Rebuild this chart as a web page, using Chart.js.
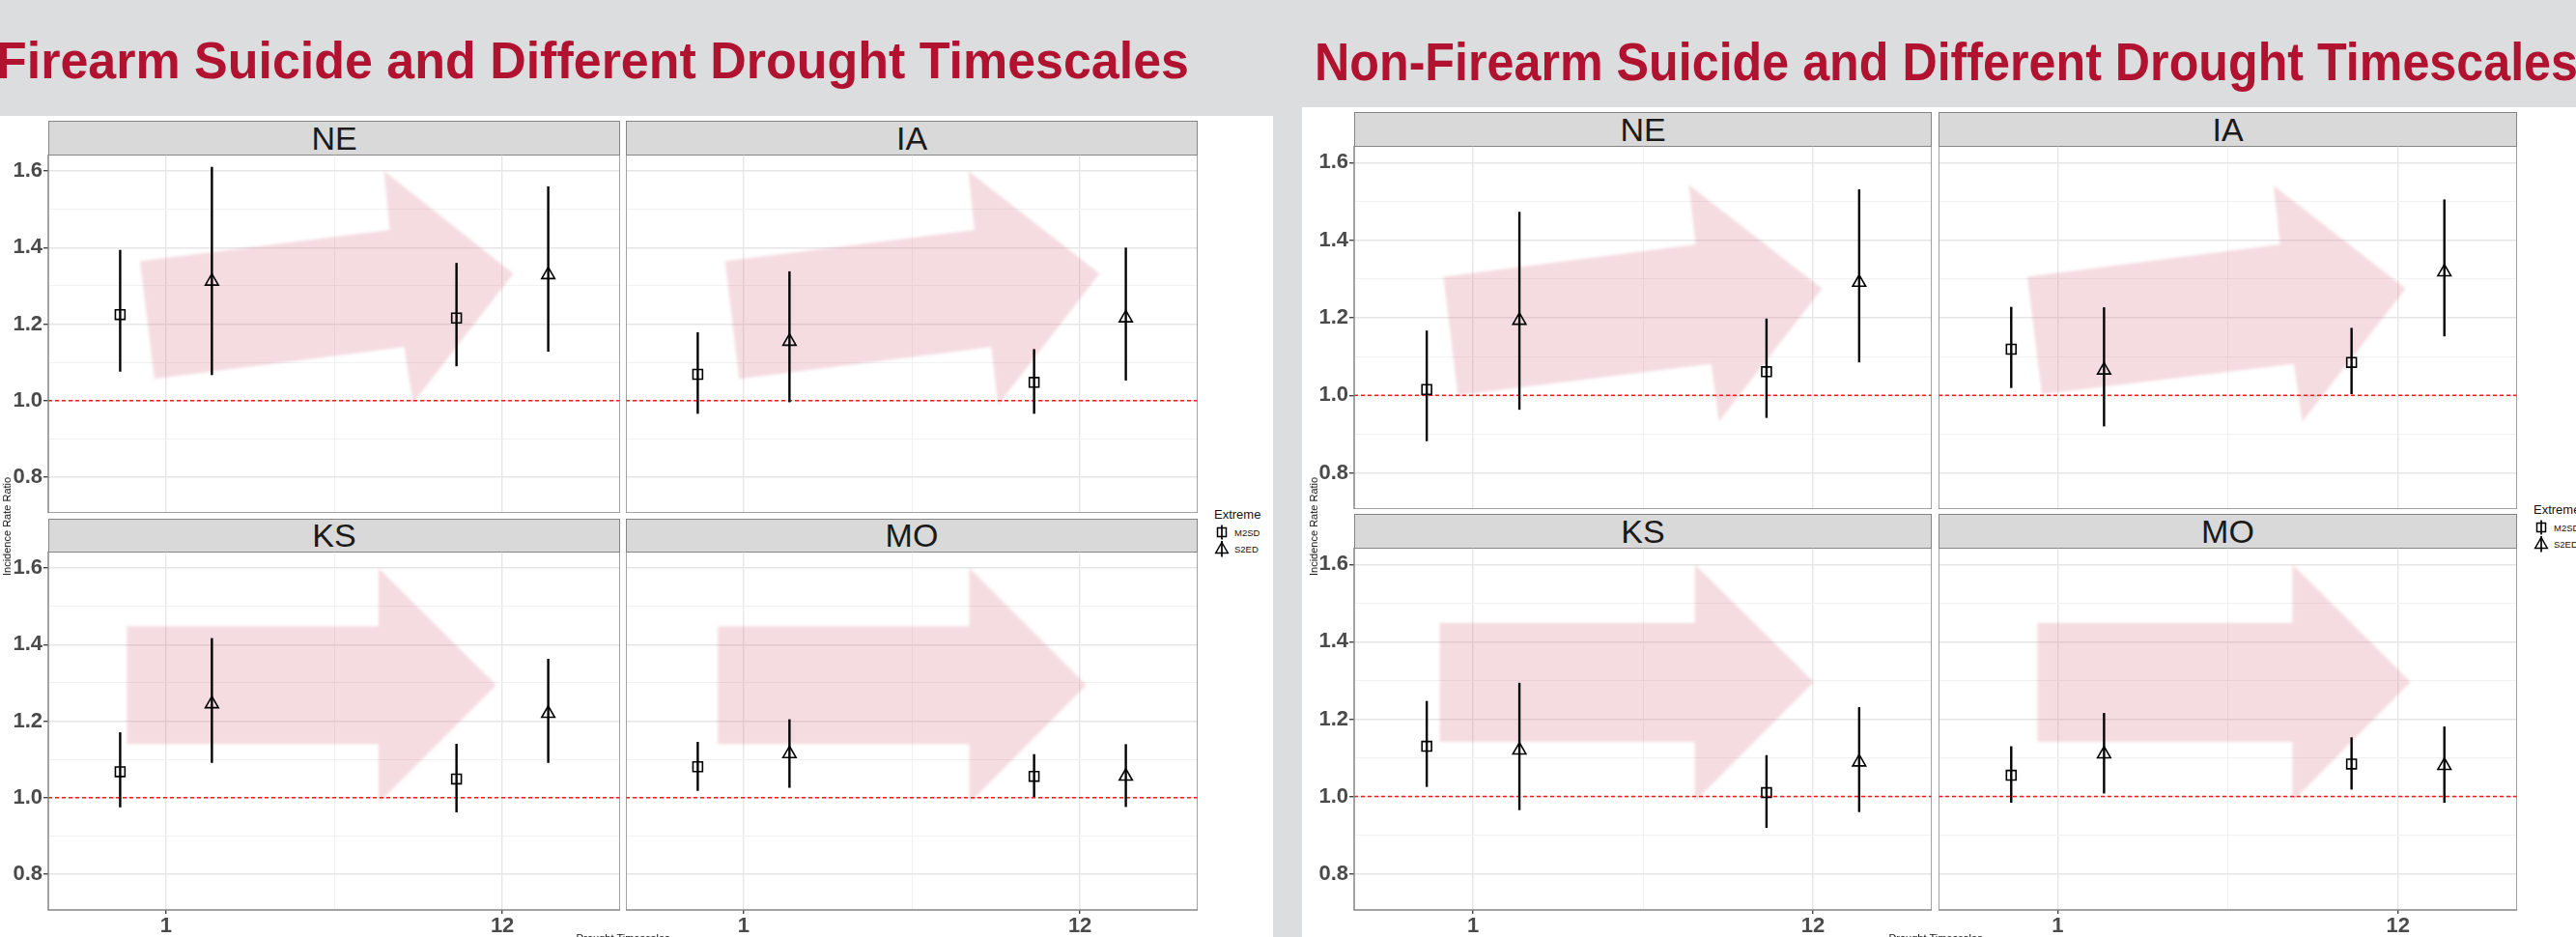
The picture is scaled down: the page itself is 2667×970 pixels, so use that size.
<!DOCTYPE html>
<html>
<head>
<meta charset="utf-8">
<script src="https://cdn.jsdelivr.net/npm/chart.js@4.4.1/dist/chart.umd.min.js"></script>
<style>
  html, body { margin: 0; padding: 0; }
  body {
    width: 2667px; height: 970px; overflow: hidden; position: relative;
    background: #dcdddf; font-family: "Liberation Sans", Arial, sans-serif;
  }
  .sheet { position: absolute; background: #ffffff; }
  .title {
    position: absolute; color: #b1122f; font-weight: bold; white-space: nowrap;
    line-height: 1; transform-origin: 0 0;
  }
  .strip {
    position: absolute; box-sizing: border-box; background: #d9d9d9;
    border: 1.5px solid #858585; color: #1a1a1a; font-size: 34px;
    display: flex; align-items: center; justify-content: center;
  }
  .panel { position: absolute; }
  .panel canvas { display: block; }
  .ytitle {
    position: absolute; font-size: 11px; color: #111; white-space: nowrap;
    transform: translate(-50%, -50%) rotate(-90deg);
  }
  .xtitle {
    position: absolute; font-size: 11px; color: #111; white-space: nowrap;
    transform: translateX(-50%);
  }
  .legend { position: absolute; color: #111; }
  .legend .lt { font-size: 13px; position: absolute; left: 0; top: -8px; white-space: nowrap; }
  .legend .item { position: absolute; left: 0; height: 18px; display: flex; align-items: center; white-space: nowrap; }
  .legend .item span { font-size: 9.5px; margin-left: 5px; }
</style>
</head>
<body>
<script>
// ---- data -------------------------------------------------------------
const states = ['NE', 'IA', 'KS', 'MO'];
const timescales = [1, 12];
const extremes = ['M2SD', 'S2ED'];
const yTicks = [0.8, 0.9, 1.0, 1.1, 1.2, 1.3, 1.4, 1.5, 1.6];
const xTicks = [1, 6.5, 12];
const yTitle = 'Incidence Rate Ratio';
const xTitle = 'Drought Timescales';
const legendTitle = 'Extreme';

// Firearm suicide: rows follow `states`, columns follow `timescales`
const firearmM2SD   = [[1.225, 1.216], [1.069, 1.048], [1.068, 1.049], [1.081, 1.056]];
const firearmM2SDLo = [[1.076, 1.090], [0.966, 0.966], [0.975, 0.962], [1.018, 1.002]];
const firearmM2SDHi = [[1.394, 1.360], [1.179, 1.135], [1.171, 1.141], [1.146, 1.114]];
const firearmS2ED   = [[1.312, 1.329], [1.155, 1.216], [1.245, 1.220], [1.115, 1.056]];
const firearmS2EDLo = [[1.067, 1.128], [0.996, 1.053], [1.091, 1.091], [1.026, 0.976]];
const firearmS2EDHi = [[1.611, 1.560], [1.338, 1.400], [1.417, 1.363], [1.205, 1.140]];

// Non-firearm suicide
const nonFirearmM2SD   = [[1.015, 1.061], [1.119, 1.085], [1.130, 1.010], [1.055, 1.084]];
const nonFirearmM2SDLo = [[0.882, 0.942], [1.019, 1.003], [1.025, 0.919], [0.984, 1.018]];
const nonFirearmM2SDHi = [[1.167, 1.198], [1.228, 1.174], [1.247, 1.107], [1.130, 1.153]];
const nonFirearmS2ED   = [[1.193, 1.291], [1.065, 1.318], [1.120, 1.089], [1.110, 1.080]];
const nonFirearmS2EDLo = [[0.963, 1.085], [0.920, 1.152], [0.965, 0.960], [1.008, 0.984]];
const nonFirearmS2EDHi = [[1.473, 1.531], [1.227, 1.505], [1.294, 1.231], [1.216, 1.181]];

// ---- highlight arrows, vertices in axis units (x = timescale, y = IRR) ----
const firearmArrows = [
  [[0.15, 1.365], [8.32, 1.446], [8.13, 1.60], [12.36, 1.332], [9.08, 0.994], [8.79, 1.140], [0.62, 1.057]],
  [[0.39, 1.365], [8.55, 1.446], [8.35, 1.60], [12.64, 1.332], [9.32, 0.989], [9.10, 1.140], [0.855, 1.057]],
  [[-0.28, 1.448], [7.95, 1.448], [7.95, 1.60], [11.80, 1.294], [7.95, 0.986], [7.95, 1.140], [-0.28, 1.140]],
  [[0.155, 1.448], [8.38, 1.448], [8.38, 1.60], [12.21, 1.294], [8.38, 0.986], [8.38, 1.140], [0.155, 1.140]]
];
const nonFirearmArrows = [
  [[0.04, 1.306], [8.21, 1.389], [7.98, 1.543], [12.30, 1.275], [8.96, 0.932], [8.71, 1.081], [0.51, 1.001]],
  [[0.02, 1.306], [8.19, 1.389], [7.98, 1.541], [12.25, 1.275], [8.91, 0.932], [8.64, 1.081], [0.49, 1.003]],
  [[-0.08, 1.449], [8.18, 1.449], [8.18, 1.60], [12.03, 1.296], [8.18, 0.987], [8.18, 1.141], [-0.08, 1.141]],
  [[0.35, 1.449], [8.59, 1.449], [8.59, 1.60], [12.41, 1.296], [8.59, 0.987], [8.59, 1.141], [0.35, 1.141]]
];

// ---- page layout ---------------------------------------------------------
const X_MIN = -2.85, X_MAX = 15.85, Y_MIN = 0.707, Y_MAX = 1.643;
const DODGE = 1.5;

const figures = [
  {
    title: 'Firearm Suicide and Different Drought Timescales',
    titleBox: { left: -4, right: 1231, baseline: 81, size: 53 },
    sheet: { left: 0, top: 120, width: 1318, height: 850 },
    cols: [[50, 642], [648, 1240]],
    rows: [[125, 160, 531], [537, 571, 942]],
    yLabelW: 50, yTitleX: 7, yTitleY: 545, xTitleX: 645,
    legend: { x: 1257, y: 533 },
    est: [firearmM2SD, firearmS2ED], lo: [firearmM2SDLo, firearmS2EDLo], hi: [firearmM2SDHi, firearmS2EDHi],
    arrows: firearmArrows
  },
  {
    title: 'Non-Firearm Suicide and Different Drought Timescales',
    titleBox: { left: 1361, right: 2669, baseline: 83, size: 56 },
    sheet: { left: 1348, top: 111, width: 1330, height: 859 },
    cols: [[1402, 2000], [2007, 2606]],
    rows: [[116, 151, 527], [532, 567, 942]],
    yLabelW: 50, yTitleX: 1360, yTitleY: 545, xTitleX: 2004,
    legend: { x: 2623, y: 528 },
    est: [nonFirearmM2SD, nonFirearmS2ED], lo: [nonFirearmM2SDLo, nonFirearmS2EDLo], hi: [nonFirearmM2SDHi, nonFirearmS2EDHi],
    arrows: nonFirearmArrows
  }
];

const X_LABEL_H = 32;
const pointStyles = ['rect', 'triangle'];
const pointRadii = [7, 7.8];
const tickFont = { family: 'Liberation Sans', size: 22, weight: 'bold' };

function el(tag, cls, style, text) {
  const e = document.createElement(tag);
  if (cls) e.className = cls;
  Object.assign(e.style, style || {});
  if (text !== undefined) e.textContent = text;
  document.body.appendChild(e);
  return e;
}

const isMajorY = v => Math.round(v * 10) % 2 === 0;
const isMajorX = v => v === 1 || v === 12;

// axes keep exactly the size given, without extra room for overhanging labels
function fixAxis(s, size) {
  if (s.isHorizontal()) s.height = size; else s.width = size;
  s.paddingTop = 0; s.paddingBottom = 0; s.paddingLeft = 0; s.paddingRight = 0;
}

function panelDecor(arrow) {
  return {
    id: 'panelDecor',
    beforeDatasetsDraw(chart) {
      const { ctx, chartArea: a, scales: { x, y } } = chart;
      ctx.save();
      ctx.beginPath();
      ctx.rect(a.left, a.top, a.width, a.height);
      ctx.clip();
      // soft pink arrow behind the estimates
      ctx.filter = 'blur(1.5px)';
      ctx.fillStyle = 'rgba(214, 110, 130, 0.24)';
      ctx.beginPath();
      arrow.forEach(([vx, vy], i) => {
        const px = x.getPixelForValue(vx), py = y.getPixelForValue(vy);
        if (i) ctx.lineTo(px, py); else ctx.moveTo(px, py);
      });
      ctx.closePath();
      ctx.fill();
      ctx.filter = 'none';
      // null line at IRR = 1
      const y1 = y.getPixelForValue(1);
      ctx.strokeStyle = '#ff1a1a';
      ctx.lineWidth = 1.5;
      ctx.setLineDash([4, 3]);
      ctx.beginPath();
      ctx.moveTo(a.left, y1);
      ctx.lineTo(a.right, y1);
      ctx.stroke();
      ctx.setLineDash([]);
      // confidence intervals
      ctx.strokeStyle = '#000';
      ctx.lineWidth = 2.4;
      chart.data.datasets.forEach(ds => ds.data.forEach(p => {
        const px = x.getPixelForValue(p.x);
        ctx.beginPath();
        ctx.moveTo(px, y.getPixelForValue(p.lo));
        ctx.lineTo(px, y.getPixelForValue(p.hi));
        ctx.stroke();
      }));
      ctx.restore();
    },
    afterDraw(chart) {
      const { ctx, chartArea: a } = chart;
      ctx.save();
      ctx.strokeStyle = '#858585';
      ctx.lineWidth = 1.5;
      ctx.strokeRect(a.left, a.top, a.width, a.height);
      ctx.restore();
    }
  };
}

figures.forEach(fig => {
  el('div', 'sheet', {
    left: fig.sheet.left + 'px', top: fig.sheet.top + 'px',
    width: fig.sheet.width + 'px', height: fig.sheet.height + 'px'
  });

  // heading, stretched to its box
  const tb = fig.titleBox;
  const t = el('div', 'title', { fontSize: tb.size + 'px' }, fig.title);
  const natural = t.getBoundingClientRect().width;
  const sx = (tb.right - tb.left) / natural;
  t.style.left = tb.left + 'px';
  t.style.top = (tb.baseline - 0.8465 * tb.size) + 'px';
  t.style.transform = 'scaleX(' + sx + ')';

  states.forEach((st, si) => {
    const r = Math.floor(si / 2), c = si % 2;
    const [cl, cr] = fig.cols[c];
    const [stripTop, plotTop, plotBottom] = fig.rows[r];

    el('div', 'strip', {
      left: cl + 'px', top: stripTop + 'px',
      width: (cr - cl) + 'px', height: (plotTop - stripTop + 1) + 'px'
    }, st);

    const yW = c === 0 ? fig.yLabelW : 0;
    const xH = r === 1 ? X_LABEL_H : 0;
    const left = cl - yW;
    const w = cr - left, h = plotBottom - plotTop + xH;
    const box = el('div', 'panel', { left: left + 'px', top: plotTop + 'px', width: w + 'px', height: h + 'px' });
    const cv = document.createElement('canvas');
    cv.width = w; cv.height = h;
    cv.style.width = w + 'px'; cv.style.height = h + 'px';
    box.appendChild(cv);

    const datasets = extremes.map((ex, ei) => ({
      label: ex,
      data: timescales.map((ts, ti) => ({
        x: ts + (ei === 0 ? -DODGE : DODGE),
        y: fig.est[ei][si][ti],
        lo: fig.lo[ei][si][ti],
        hi: fig.hi[ei][si][ti]
      })),
      pointStyle: pointStyles[ei],
      pointRadius: pointRadii[ei],
      pointHoverRadius: pointRadii[ei],
      pointBorderWidth: 1.6,
      pointBorderColor: '#000',
      pointBackgroundColor: 'rgba(0,0,0,0)',
      showLine: false
    }));

    new Chart(cv, {
      type: 'scatter',
      data: { datasets },
      options: {
        responsive: false,
        animation: false,
        devicePixelRatio: 1,
        layout: { padding: 0, autoPadding: false },
        plugins: { legend: { display: false }, tooltip: { enabled: false } },
        scales: {
          x: {
            type: 'linear', min: X_MIN, max: X_MAX,
            afterBuildTicks: ax => { ax.ticks = xTicks.map(v => ({ value: v })); },
            afterFit: s => fixAxis(s, xH),
            ticks: {
              display: r === 1, autoSkip: false, maxRotation: 0, padding: 0,
              color: '#4a4a4a', font: tickFont,
              callback: v => isMajorX(v) ? String(v) : ''
            },
            grid: {
              drawTicks: r === 1, tickLength: 4,
              color: ctx => isMajorX(ctx.tick.value) ? '#e6e6e6' : '#f1f1f1',
              lineWidth: ctx => isMajorX(ctx.tick.value) ? 1.4 : 1,
              tickColor: ctx => isMajorX(ctx.tick.value) ? '#444' : 'rgba(0,0,0,0)'
            },
            border: { display: false }
          },
          y: {
            type: 'linear', min: Y_MIN, max: Y_MAX,
            afterBuildTicks: ax => { ax.ticks = yTicks.map(v => ({ value: v })); },
            afterFit: s => fixAxis(s, yW),
            ticks: {
              display: c === 0, autoSkip: false, padding: 1,
              color: '#4a4a4a', font: tickFont,
              callback: v => isMajorY(v) ? v.toFixed(1) : ''
            },
            grid: {
              drawTicks: c === 0, tickLength: 5,
              color: ctx => isMajorY(ctx.tick.value) ? '#e6e6e6' : '#f1f1f1',
              lineWidth: ctx => isMajorY(ctx.tick.value) ? 1.4 : 1,
              tickColor: ctx => isMajorY(ctx.tick.value) ? '#444' : 'rgba(0,0,0,0)'
            },
            border: { display: false }
          }
        }
      },
      plugins: [panelDecor(fig.arrows[si])]
    });
  });

  // axis titles
  el('div', 'ytitle', { left: fig.yTitleX + 'px', top: fig.yTitleY + 'px' }, yTitle);
  el('div', 'xtitle', { left: fig.xTitleX + 'px', top: '965px' }, xTitle);

  // legend
  const lg = el('div', 'legend', { left: fig.legend.x + 'px', top: fig.legend.y + 'px' });
  const lt = document.createElement('div');
  lt.className = 'lt'; lt.textContent = legendTitle;
  lg.appendChild(lt);
  const glyphs = [
    '<svg width="16" height="18" viewBox="0 0 16 18"><line x1="8" y1="1.5" x2="8" y2="16.5" stroke="#000" stroke-width="1.7"/><rect x="3.5" y="4.5" width="9" height="9" fill="none" stroke="#000" stroke-width="1.5"/></svg>',
    '<svg width="16" height="18" viewBox="0 0 16 18"><line x1="8" y1="1" x2="8" y2="17.5" stroke="#000" stroke-width="1.7"/><path d="M8 2.5 L14.3 13.5 L1.7 13.5 Z" fill="none" stroke="#000" stroke-width="1.5"/></svg>'
  ];
  extremes.forEach((ex, ei) => {
    const it = document.createElement('div');
    it.className = 'item';
    it.style.top = (9 + ei * 17) + 'px';
    it.innerHTML = glyphs[ei];
    const sp = document.createElement('span');
    sp.textContent = ex;
    it.appendChild(sp);
    lg.appendChild(it);
  });
});
</script>
</body>
</html>
